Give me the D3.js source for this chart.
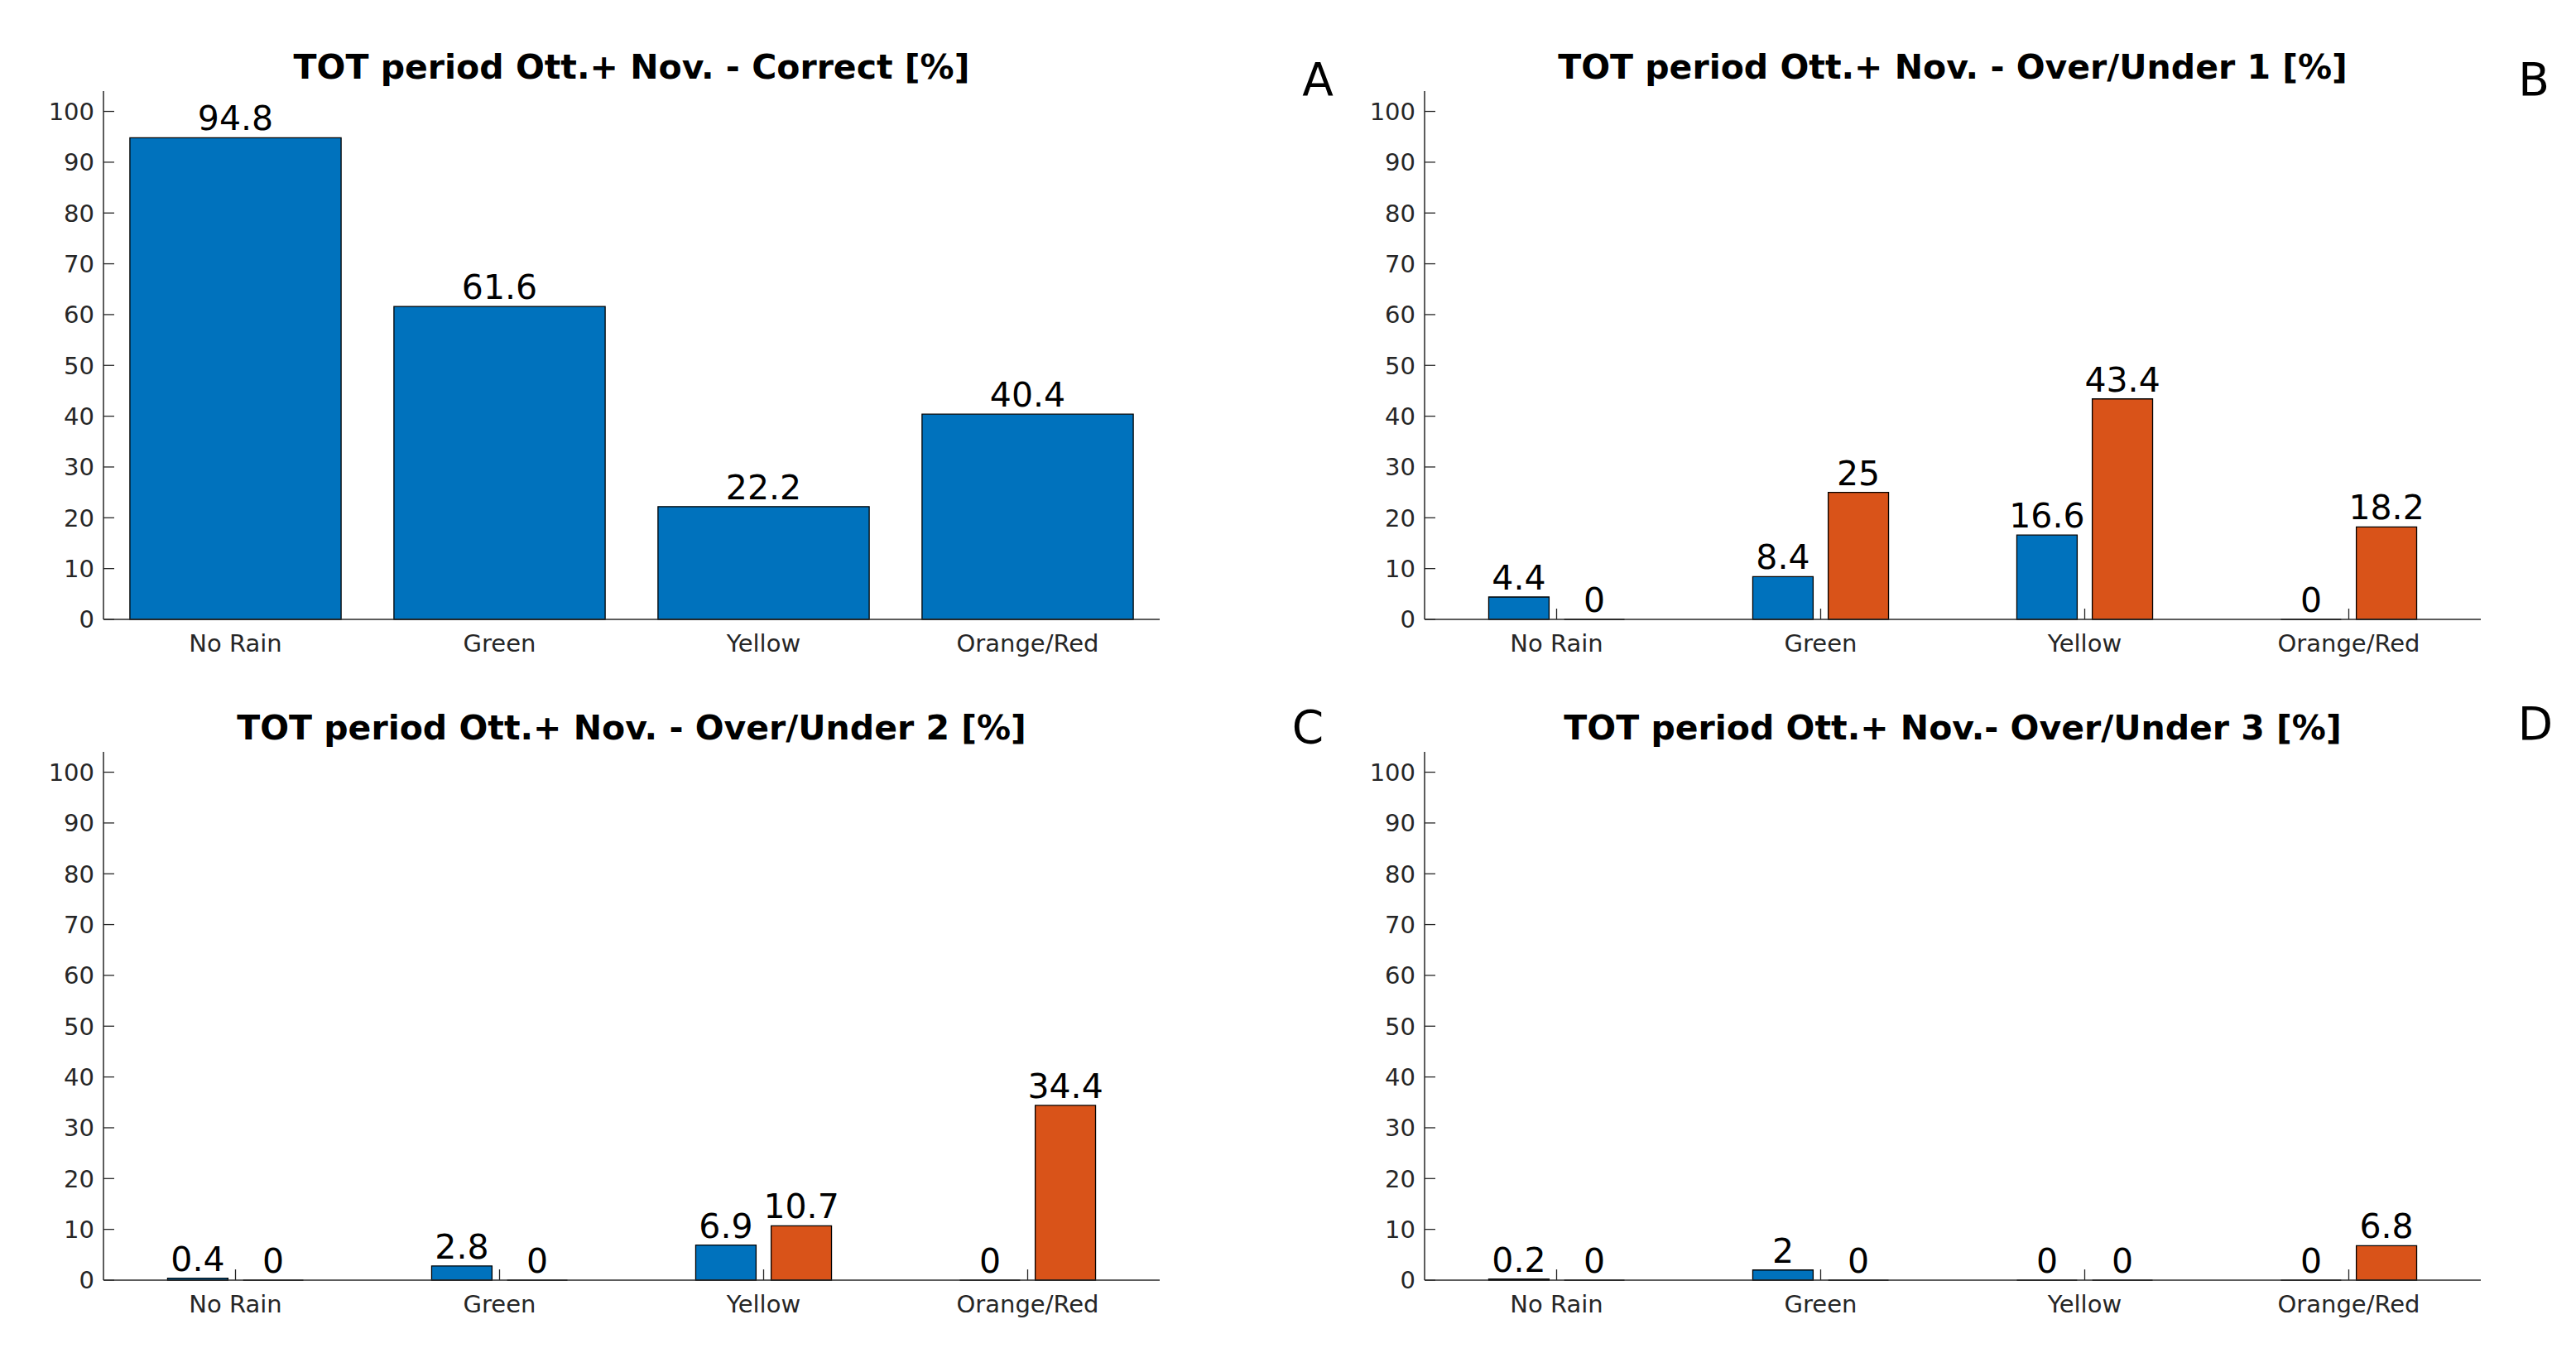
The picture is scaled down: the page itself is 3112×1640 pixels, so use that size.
<!DOCTYPE html>
<html>
<head>
<meta charset="utf-8">
<script src="https://cdn.jsdelivr.net/npm/d3@7"></script>
<style>
  html, body { margin: 0; padding: 0; background: #fff; }
  svg { display: block; font-family: "DejaVu Sans", sans-serif; }
</style>
</head>
<body>
<svg id="chart" width="3112" height="1640"></svg>
<script>
// ---- data ----
const categories = ["No Rain", "Green", "Yellow", "Orange/Red"];
const yTicks = [0, 10, 20, 30, 40, 50, 60, 70, 80, 90, 100];

const correctValues = [94.8, 61.6, 22.2, 40.4];
const ou1Over = [4.4, 8.4, 16.6, 0];
const ou1Under = [0, 25, 43.4, 18.2];
const ou2Over = [0.4, 2.8, 6.9, 0];
const ou2Under = [0, 0, 10.7, 34.4];
const ou3Over = [0.2, 2, 0, 0];
const ou3Under = [0, 0, 0, 6.8];

const titles = [
  "TOT period Ott.+ Nov. - Correct [%]",
  "TOT period Ott.+ Nov. - Over/Under 1 [%]",
  "TOT period Ott.+ Nov. - Over/Under 2 [%]",
  "TOT period Ott.+ Nov.- Over/Under 3 [%]"
];
const panelLetters = ["A", "B", "C", "D"];

// ---- layout ----
const svg = d3.select("#chart");
const colors = ["#0072BD", "#D95319"];
const axisColor = "#262626";

const panels = [
  { series: [correctValues], left: 125, top: 110, letterX: 1592, letterY: 115 },
  { series: [ou1Over, ou1Under], left: 1721, top: 110, letterX: 3061, letterY: 115 },
  { series: [ou2Over, ou2Under], left: 125, top: 908, letterX: 1580, letterY: 897 },
  { series: [ou3Over, ou3Under], left: 1721, top: 908, letterX: 3063, letterY: 893 }
];

const plotW = 1276, plotH = 638; // 0..104 range

function fmt(v) { return String(v); }

panels.forEach((p, i) => {
  const g = svg.append("g").attr("transform", `translate(${p.left},${p.top})`);
  const x = d3.scaleLinear().domain([0.5, 4.5]).range([0, plotW]);
  const y = d3.scaleLinear().domain([0, 104]).range([plotH, 0]);
  const n = p.series.length;
  let groupW, barW, offsets;
  if (n === 1) { barW = 0.8; offsets = [0]; }
  else {
    groupW = Math.min(0.8, n / (n + 1.5));
    barW = groupW / n * 0.8;
    offsets = d3.range(n).map(k => (k - (n - 1) / 2) * groupW / n);
  }

  // x ticks (drawn under bars)
  g.selectAll(".xtick").data(categories).enter().append("line")
    .attr("x1", (d, k) => x(k + 1)).attr("x2", (d, k) => x(k + 1))
    .attr("y1", plotH).attr("y2", plotH - 13)
    .attr("stroke", axisColor).attr("stroke-width", 1.3);

  // y ticks inward
  g.selectAll(".ytick").data(yTicks).enter().append("line")
    .attr("x1", 0).attr("x2", 13)
    .attr("y1", d => y(d)).attr("y2", d => y(d))
    .attr("stroke", axisColor).attr("stroke-width", 1.3);

  // y tick labels
  g.selectAll(".ylab").data(yTicks).enter().append("text")
    .attr("x", -11).attr("y", d => y(d)).attr("dy", "0.36em")
    .attr("text-anchor", "end").attr("font-size", 29).attr("fill", axisColor)
    .text(d => d);

  // x labels
  g.selectAll(".xlab").data(categories).enter().append("text")
    .attr("x", (d, k) => x(k + 1)).attr("y", plotH + 39)
    .attr("text-anchor", "middle").attr("font-size", 29).attr("fill", axisColor)
    .text(d => d);

  // bars
  p.series.forEach((vals, s) => {
    const data = vals.map((v, k) => ({ v, k }));
    g.selectAll(".bar" + s).data(data).enter().append("path")
      .attr("d", d => {
        const x0 = x(d.k + 1 + offsets[s] - barW / 2);
        const x1 = x(d.k + 1 + offsets[s] + barW / 2);
        const y0 = y(0), y1 = y(d.v);
        return `M${x0},${y0}H${x1}V${y1}H${x0}Z`;
      })
      .attr("fill", colors[s]).attr("stroke", "#000").attr("stroke-width", 1.3);
    g.selectAll(".val" + s).data(data).enter().append("text")
      .attr("x", d => x(d.k + 1 + offsets[s]))
      .attr("y", d => y(d.v) - 9)
      .attr("text-anchor", "middle").attr("font-size", 41).attr("fill", "#000")
      .text(d => fmt(d.v));
  });

  // axes lines
  g.append("line").attr("x1", 0).attr("x2", 0).attr("y1", 0).attr("y2", plotH)
    .attr("stroke", axisColor).attr("stroke-width", 1.5);
  g.append("line").attr("x1", 0).attr("x2", plotW).attr("y1", plotH).attr("y2", plotH)
    .attr("stroke", axisColor).attr("stroke-width", 1.5);

  // title
  g.append("text").attr("x", plotW / 2).attr("y", -15)
    .attr("text-anchor", "middle").attr("font-size", 41).attr("font-weight", "bold")
    .attr("fill", "#000").text(titles[i]);

  // panel letter
  svg.append("text").attr("x", p.letterX).attr("y", p.letterY)
    .attr("text-anchor", "middle").attr("font-size", 55).attr("fill", "#000")
    .text(panelLetters[i]);
});
</script>
</body>
</html>
